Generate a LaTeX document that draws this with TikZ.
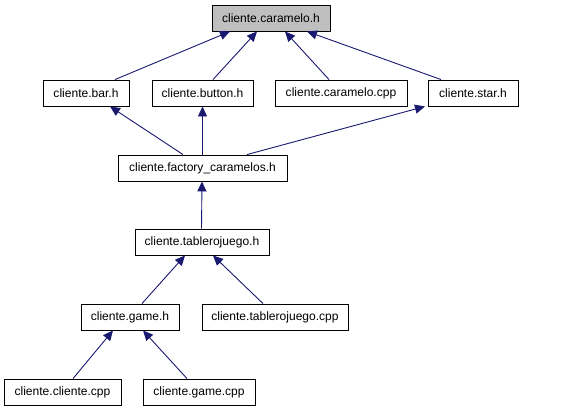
\documentclass[tikz,border=0pt]{standalone}
\usepackage{fontspec}
\setmainfont{Liberation Sans}
\usetikzlibrary{arrows.meta,calc}
\begin{document}
\begin{tikzpicture}[x=1bp,y=-1bp,
  box/.style={draw=black,line width=0.9bp,fill=white,minimum height=26bp,inner sep=0pt,
    font=\fontsize{12.1}{14}\selectfont,anchor=center},
  edge/.style={draw={rgb,255:red,25;green,25;blue,112},line width=0.9bp,
    -{Triangle[length=10bp,width=9bp]}}]
\useasboundingbox (0,0) rectangle (568,411);
\node[box,fill={rgb,255:red,191;green,191;blue,191},minimum width=118bp] (car) at (271,18) {cliente.caramelo.h};
\node[box,minimum width=86bp] (bar) at (86,93) {cliente.bar.h};
\node[box,minimum width=101bp] (but) at (202.5,93) {cliente.button.h};
\node[box,minimum width=132bp] (ccpp) at (341,93) {cliente.caramelo.cpp};
\node[box,minimum width=90bp] (star) at (473,93) {cliente.star.h};
\node[box,minimum width=169bp] (fac) at (202.5,168) {cliente.factory\_caramelos.h};
\node[box,minimum width=134bp] (tab) at (202,242) {cliente.tablerojuego.h};
\node[box,minimum width=98bp] (game) at (130,317) {cliente.game.h};
\node[box,minimum width=146bp] (tcpp) at (275,317) {cliente.tablerojuego.cpp};
\node[box,minimum width=117bp] (cli) at (62.5,392) {cliente.cliente.cpp};
\node[box,minimum width=112bp] (gcpp) at (199,392) {cliente.game.cpp};

\draw[edge] ([xshift=29bp]bar.north) -- ([xshift=-41bp]car.south);
\draw[edge] ([xshift=10.5bp]but.north) -- ([xshift=-14bp]car.south);
\draw[edge] ([xshift=-12bp]ccpp.north) -- ([xshift=14bp]car.south);
\draw[edge] ([xshift=-32bp]star.north) -- ([xshift=36bp]car.south);
\draw[edge] ([xshift=-19.5bp]fac.north) -- ([xshift=24bp]bar.south);
\draw[edge] (fac.north) -- (but.south);
\draw[edge] ([xshift=44.5bp]fac.north) -- ([xshift=-48bp]star.south);
\draw[edge] ([xshift=-0.5bp]tab.north) -- ([xshift=-0.5bp]fac.south);
\draw[edge] ([xshift=12bp]game.north) -- ([xshift=-17bp]tab.south);
\draw[edge] ([xshift=-12bp]tcpp.north) -- ([xshift=11bp]tab.south);
\draw[edge] ([xshift=10.5bp]cli.north) -- ([xshift=-17bp]game.south);
\draw[edge] ([xshift=-12bp]gcpp.north) -- ([xshift=13bp]game.south);
\end{tikzpicture}
\end{document}
